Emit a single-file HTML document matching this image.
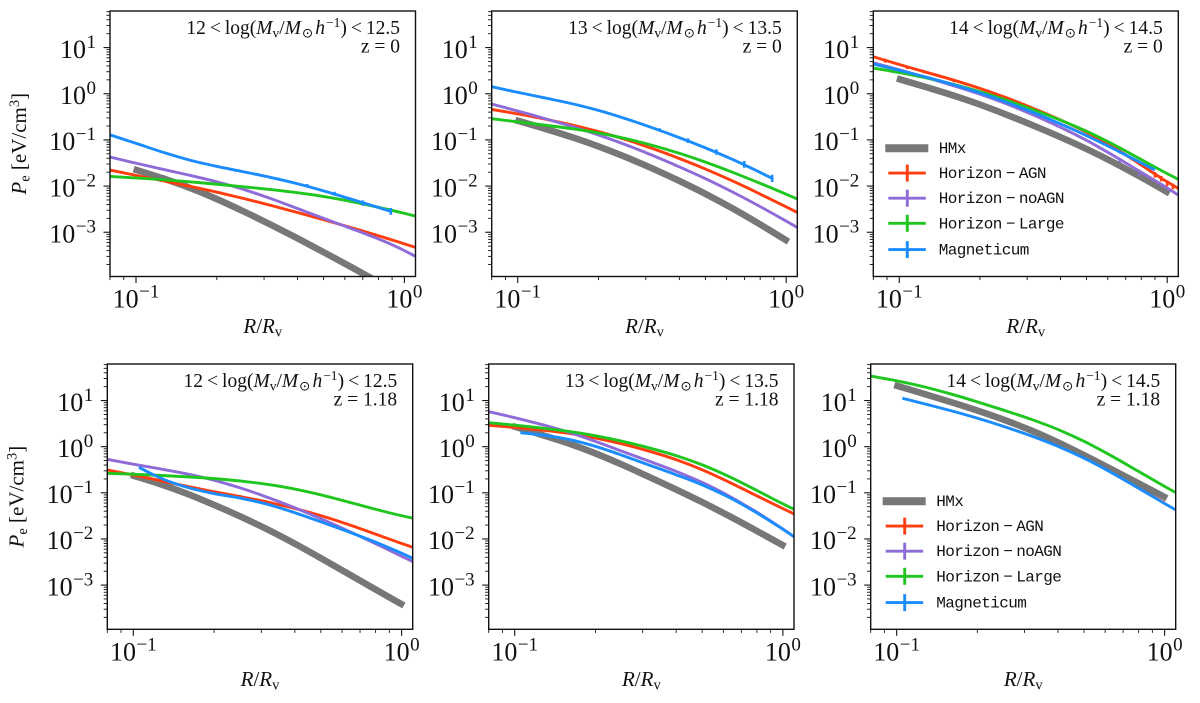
<!DOCTYPE html>
<html lang="en">
<head>
<meta charset="utf-8">
<title>Electron pressure profiles</title>
<style>
html,body{margin:0;padding:0;background:#fff;width:1200px;height:703px;overflow:hidden}
svg{display:block}
text{font-family:"Liberation Serif","DejaVu Serif",serif;fill:#111}
.mono{font-family:"Liberation Mono","DejaVu Sans Mono",monospace;letter-spacing:-0.6px}
</style>
</head>
<body>
<svg id="figure" xmlns="http://www.w3.org/2000/svg" width="1200" height="703" viewBox="0 0 1200 703"></svg>
<script>
// ---- data: radius R/Rv and electron pressure in eV/cm3 ----
const radius = [0.08,0.1,0.13,0.16,0.2,0.25,0.32,0.4,0.5,0.63,0.8,1.0,1.1];
const grayRadius = [0.098,0.13,0.16,0.2,0.25,0.32,0.4,0.5,0.63,0.8,1.02];
const xTickValues = [0.1,1];
const xTickExponents = ['−1','0'];
const yTickValues = [10,1,0.1,0.01,0.001];
const yTickExponents = ['1','0','−1','−2','−3'];
const legendLabels = ['Horizon−AGN','Horizon−noAGN','Horizon−Large','Magneticum'];

// panel 1: 12-12.5, z=0
const p1Gray = [0.0233,0.0144,0.00935,0.0054,0.00292,0.00145,0.00075,0.00037,0.00018,0.000086,0.000037];
const p1Red = [0.0222,0.017,0.0126,0.0098,0.00754,0.0055,0.00381,0.00269,0.00187,0.00129,0.00085,0.00056,0.00047];
const p1Purple = [0.0425,0.0315,0.0215,0.0173,0.0128,0.0089,0.0055,0.00323,0.00196,0.00123,0.00075,0.00043,0.0003];
const p1Green = [0.0162,0.0151,0.0137,0.0124,0.011,0.0097,0.0085,0.0073,0.0061,0.0048,0.0035,0.0026,0.00224];
const p1BlueR = [0.08,0.1,0.13,0.16,0.2,0.25,0.32,0.4,0.5,0.63,0.89];
const p1Blue = [0.129,0.088,0.0485,0.0336,0.0267,0.0208,0.0154,0.0116,0.00805,0.00523,0.00283];
const p1ErrR = [0.267,0.34,0.434,0.549,0.7,0.89];
const p1ErrP = [0.0195,0.0144,0.0102,0.00682,0.00428,0.00283];
const p1ErrF = [1.034,1.051,1.087,1.105,1.142,1.181];

// panel 2: 13-13.5, z=0
const p2Gray = [0.269,0.169,0.117,0.0736,0.0448,0.0242,0.0131,0.00695,0.00346,0.00151,0.000624];
const p2Red = [0.458,0.376,0.279,0.21,0.156,0.108,0.0656,0.0398,0.0242,0.0135,0.00671,0.00356,0.00269];
const p2Purple = [0.598,0.429,0.279,0.193,0.134,0.0813,0.0469,0.0262,0.0147,0.00793,0.00356,0.00178,0.00127];
const p2Green = [0.288,0.248,0.203,0.178,0.146,0.112,0.0774,0.0528,0.0337,0.0205,0.0115,0.00671,0.00524];
const p2BlueR = [0.08,0.1,0.13,0.16,0.2,0.25,0.32,0.4,0.5,0.63,0.8,0.886];
const p2Blue = [1.42,1.05,0.794,0.618,0.458,0.297,0.184,0.113,0.0689,0.0397,0.0198,0.0147];
const p2ErrR = [0.209,0.267,0.338,0.431,0.55,0.698,0.887];
const p2ErrP = [0.422,0.261,0.164,0.096,0.0546,0.0295,0.0147];
const p2ErrF = [1.034,1.051,1.087,1.124,1.142,1.181,1.2];

// panel 3: 14-14.5, z=0
const p3Gray = [2.15,1.31,0.938,0.598,0.363,0.2,0.117,0.0656,0.0337,0.016,0.00695];
const p3Red = [6.34,4.19,2.76,2.05,1.31,0.863,0.482,0.269,0.158,0.0773,0.0285,0.0114,0.0089];
const p3Purple = [4.7,3.37,2.15,1.47,1.02,0.64,0.346,0.186,0.108,0.0469,0.0188,0.00968,0.0064];
const p3Green = [3.6,2.9,2.22,1.62,1.14,0.755,0.444,0.269,0.165,0.0841,0.0366,0.0182,0.014];
const p3BlueR = [0.08,0.1,0.13,0.16,0.2,0.25,0.32,0.4,0.5,0.63,0.8,0.9];
const p3Blue = [4.4,3.26,2.22,1.6,1.05,0.695,0.387,0.22,0.132,0.0656,0.031,0.0223];
const p3RedErrR = [0.0887,0.107,0.124,0.141,0.16,0.9,0.95,1.0,1.05];
const p3RedErrP = [5.2,3.7,2.95,2.45,1.85,0.0175,0.0145,0.0114,0.0098];
const p3RedErrF = [1.1,1.08,1.06,1.05,1.04,1.15,1.15,1.15,1.15];
const p3PurpleErrR = [0.333,0.362,0.39,0.427,0.47,0.513,0.559,0.665,0.786];
const p3PurpleErrP = [0.305,0.24,0.195,0.152,0.118,0.0927,0.0665,0.0342,0.0176];
const p3PurpleErrF = [1.05,1.05,1.05,1.05,1.05,1.05,1.05,1.05,1.05];

// panel 4: 12-12.5, z=1.18
const p4Gray = [0.244,0.156,0.0975,0.0545,0.0315,0.0163,0.00807,0.00382,0.00181,0.000787,0.00036];
const p4Red = [0.313,0.244,0.181,0.136,0.101,0.0855,0.0644,0.0462,0.0332,0.0219,0.0122,0.00807,0.0066];
const p4Purple = [0.532,0.402,0.324,0.265,0.196,0.132,0.08,0.0486,0.0281,0.0152,0.00807,0.00415,0.00324];
const p4Green = [0.265,0.256,0.236,0.224,0.207,0.184,0.156,0.125,0.0929,0.0644,0.0426,0.0315,0.0282];
const p4BlueR = [0.105,0.119,0.13,0.16,0.2,0.25,0.32,0.4,0.5,0.63,0.8,1.0,1.1];
const p4Blue = [0.357,0.244,0.19,0.125,0.0929,0.08,0.0574,0.0372,0.0238,0.0144,0.00877,0.0049,0.00382];

// panel 5: 13-13.5, z=1.18
const p5Gray = [2.81,1.71,1.22,0.743,0.421,0.216,0.119,0.0644,0.0321,0.0149,0.00684];
const p5Red = [2.9,2.63,2.3,2.01,1.6,1.18,0.82,0.542,0.34,0.175,0.0826,0.0461,0.0349];
const p5Purple = [5.74,4.33,2.95,2.11,1.35,0.78,0.474,0.303,0.18,0.0897,0.0391,0.017,0.0112];
const p5Green = [3.32,2.95,2.5,2.19,1.79,1.35,0.953,0.661,0.436,0.235,0.115,0.0546,0.0439];
const p5BlueR = [0.105,0.13,0.16,0.2,0.25,0.32,0.4,0.5,0.63,0.8,1.0,1.1];
const p5Blue = [2.01,1.85,1.52,1.09,0.661,0.388,0.244,0.161,0.0869,0.0378,0.0165,0.0112];

// panel 6: 14-14.5, z=1.18
const p6Gray = [21.7,13.6,9.14,6.24,3.98,2.3,1.29,0.661,0.329,0.161,0.0762];
const p6RedR = [0.4,0.5,0.63,0.8,1.0];
const p6Red = [1.12,0.6,0.3,0.124,0.06];
const p6Green = [34,27.9,20,13.9,9.44,6.24,3.98,2.5,1.4,0.661,0.288,0.136,0.101];
const p6BlueR = [0.105,0.13,0.16,0.2,0.25,0.32,0.4,0.5,0.63,0.8,1.0,1.1];
const p6Blue = [11.2,8.28,6.03,4.26,2.81,1.73,1.07,0.589,0.297,0.121,0.0593,0.0426];

// ---- styling and layout ----
const COLORS = {gray:'#777777',red:'#ff3d0f',purple:'#8f6bd8',green:'#1fc61f',blue:'#1a8cff'};
const LEGEND_COLORS = [COLORS.red,COLORS.purple,COLORS.green,COLORS.blue];
const XMIN=0.08,XMAX=1.1,YMIN=1.1e-4,YMAX=62;
const svg=document.getElementById('figure');
const NS='http://www.w3.org/2000/svg';

function make(parent,tag,name,attrs){
  const el=document.createElementNS(NS,tag);
  for(const k in attrs){el.setAttribute(k,attrs[k]);}
  
  
  parent.appendChild(el);
  return el;
}
function xAxis(ax,v){return ax.left+(Math.log10(v)-Math.log10(XMIN))/(Math.log10(XMAX)-Math.log10(XMIN))*(ax.right-ax.left);}
function yAxis(ax,v){return ax.top+(Math.log10(YMAX)-Math.log10(v))/(Math.log10(YMAX)-Math.log10(YMIN))*(ax.bottom-ax.top);}

// Evens out hand-reading noise between neighbouring points; endpoints stay fixed.
function relax(pts,passes){
  let out=pts;
  for(let n=0;n<passes;n++){
    out=out.map(function(p,i){
      if(i===0||i===out.length-1)return p;
      return [(out[i-1][0]+2*p[0]+out[i+1][0])/4,(out[i-1][1]+2*p[1]+out[i+1][1])/4];
    });
  }
  return out;
}
function smoothPath(pts){
  let d='M'+pts[0][0].toFixed(2)+' '+pts[0][1].toFixed(2);
  for(let i=0;i<pts.length-1;i++){
    const p0=pts[Math.max(i-1,0)],p1=pts[i],p2=pts[i+1],p3=pts[Math.min(i+2,pts.length-1)];
    const c1x=p1[0]+(p2[0]-p0[0])/6,c1y=p1[1]+(p2[1]-p0[1])/6;
    const c2x=p2[0]-(p3[0]-p1[0])/6,c2y=p2[1]-(p3[1]-p1[1])/6;
    d+='C'+c1x.toFixed(2)+' '+c1y.toFixed(2)+' '+c2x.toFixed(2)+' '+c2y.toFixed(2)+' '+p2[0].toFixed(2)+' '+p2[1].toFixed(2);
  }
  return d;
}
function drawSeries(ax,g,name,rs,ps,color,width,passes){
  const pts=rs.map(function(r,i){return [xAxis(ax,r),yAxis(ax,ps[i])];});
  make(g,'path',name,{d:smoothPath(relax(pts,passes)),fill:'none',stroke:color,'stroke-width':width,'stroke-linejoin':'round'});
}
function drawErrors(ax,g,name,rs,ps,fs,color){
  rs.forEach(function(r,i){
    const x=xAxis(ax,r);
    make(g,'line',name,{x1:x,x2:x,y1:yAxis(ax,ps[i]*fs[i]),y2:yAxis(ax,ps[i]/fs[i]),stroke:color,'stroke-width':2.6});
  });
}
function powerLabel(parent,name,x,y,anchor,exponent){
  const t=make(parent,'text',name,{x:x,y:y,'text-anchor':anchor,'font-size':26});
  t.innerHTML='10<tspan dy="-10" dx="0.5" font-size="19">'+exponent+'</tspan>';
  return t;
}
function massLabel(parent,ax,low,high,z){
  const rx=ax.right-15.5;
  const t=make(parent,'text','mass-range-label',{x:rx,y:ax.top+23,'text-anchor':'end','font-size':19.5});
  t.innerHTML=low+'<tspan dx="4">&lt;</tspan><tspan dx="4">log(</tspan><tspan font-style="italic">M</tspan><tspan dy="3.5" font-size="13.5">v</tspan><tspan dy="-3.5">/</tspan><tspan font-style="italic">M</tspan><tspan dy="3.5" dx="1" font-size="13.5" style="font-family:\'DejaVu Sans\',sans-serif">⊙</tspan><tspan dy="-3.5" dx="2" font-style="italic">h</tspan><tspan dy="-7" dx="1" font-size="13.5">−1</tspan><tspan dy="7">)</tspan><tspan dx="4">&lt;</tspan><tspan dx="4">'+high+'</tspan>';
  const t2=make(parent,'text','redshift-label',{x:rx,y:ax.top+41.3,'text-anchor':'end','font-size':19.5});
  t2.textContent='z = '+z;
}
function drawAxes(ax,g){
  const minors=[0.08,0.09,0.2,0.3,0.4,0.5,0.6,0.7,0.8,0.9];
  minors.forEach(function(v){
    const x=xAxis(ax,v);
    make(g,'line','x-minor-tick',{x1:x,x2:x,y1:ax.bottom,y2:ax.bottom+3.6,stroke:'#111','stroke-width':0.9});
  });
  xTickValues.forEach(function(v,i){
    const x=xAxis(ax,v);
    make(g,'line','x-major-tick',{x1:x,x2:x,y1:ax.bottom,y2:ax.bottom+6.5,stroke:'#111','stroke-width':1.1});
    powerLabel(g,'x-tick-label',x,ax.bottom+31,'middle',xTickExponents[i]);
  });
  for(let d=-4;d<=1;d++){
    for(let m=2;m<=9;m++){
      const v=m*Math.pow(10,d);
      if(v<YMIN||v>YMAX)continue;
      const y=yAxis(ax,v);
      make(g,'line','y-minor-tick',{x1:ax.left-3.6,x2:ax.left,y1:y,y2:y,stroke:'#111','stroke-width':0.9});
    }
  }
  yTickValues.forEach(function(v,i){
    const y=yAxis(ax,v);
    make(g,'line','y-major-tick',{x1:ax.left-6.5,x2:ax.left,y1:y,y2:y,stroke:'#111','stroke-width':1.1});
    powerLabel(g,'y-tick-label',ax.left-14,y+10.3,'end',yTickExponents[i]);
  });
  make(g,'rect','axes-frame',{x:ax.left,y:ax.top,width:ax.right-ax.left,height:ax.bottom-ax.top,fill:'none',stroke:'#111','stroke-width':1.4});
  const xl=make(g,'text','x-axis-title',{x:(ax.left+ax.right)/2,y:ax.bottom+56.5,'text-anchor':'middle','font-size':21});
  xl.innerHTML='<tspan font-style="italic">R</tspan>/<tspan font-style="italic">R</tspan><tspan dy="3.5" font-size="14.5">v</tspan>';
}
function drawYTitle(ax,g){
  const cx=ax.left-84,cy=(ax.top+ax.bottom)/2;
  const yl=make(g,'text','y-axis-title',{x:cx,y:cy,'text-anchor':'middle','font-size':21,transform:'rotate(-90 '+cx+' '+cy+')'});
  yl.innerHTML='<tspan font-style="italic">P</tspan><tspan dy="3.5" font-size="14.5">e</tspan><tspan dy="-3.5"> [eV/cm</tspan><tspan dy="-7" font-size="14.5">3</tspan><tspan dy="7">]</tspan>';
}
function drawLegend(ax,g){
  const legend=make(g,'g','legend',{});
  const grayY=ax.top+137.2;
  make(legend,'line','legend-swatch-hmx',{x1:ax.left+12,x2:ax.left+55,y1:grayY,y2:grayY,stroke:COLORS.gray,'stroke-width':8});
  const hmx=make(legend,'text','legend-label-hmx',{x:ax.left+65.5,y:grayY+5,'font-size':16,class:'mono'});
  hmx.textContent='HMx';
  const rows=[162.1,187.2,212.3,238.6];
  legendLabels.forEach(function(label,i){
    const y=ax.top+rows[i],c=LEGEND_COLORS[i];
    make(legend,'line','legend-swatch-line',{x1:ax.left+15,x2:ax.left+52.5,y1:y,y2:y,stroke:c,'stroke-width':2.9});
    make(legend,'line','legend-swatch-errorbar',{x1:ax.left+34,x2:ax.left+34,y1:y-8.5,y2:y+8.5,stroke:c,'stroke-width':2.9});
    const t=make(legend,'text','legend-label',{x:ax.left+65.5,y:y+5,'font-size':16,class:'mono'});
    const parts=label.split('−');
    if(parts.length===2){
      t.innerHTML=parts[0]+'<tspan dx="4">−</tspan><tspan dx="4">'+parts[1]+'</tspan>';
    }else{
      t.textContent=label;
    }
  });
}

const panels=[
 {ax:{left:110,right:415.5,top:11,bottom:276.5},low:12,high:12.5,z:'0',ytitle:true,legend:false,
  series:[['gray',grayRadius,p1Gray,2],['red',radius,p1Red,2],['purple',radius,p1Purple,2],['green',radius,p1Green,2],['blue',p1BlueR,p1Blue,2]],
  errors:[['blue',p1ErrR,p1ErrP,p1ErrF]]},
 {ax:{left:491.7,right:797.3,top:11,bottom:276.5},low:13,high:13.5,z:'0',ytitle:false,legend:false,
  series:[['gray',grayRadius,p2Gray,2],['red',radius,p2Red,2],['purple',radius,p2Purple,2],['green',radius,p2Green,2],['blue',p2BlueR,p2Blue,2]],
  errors:[['blue',p2ErrR,p2ErrP,p2ErrF]]},
 {ax:{left:873.3,right:1178.3,top:11,bottom:276.5},low:14,high:14.5,z:'0',ytitle:false,legend:true,
  series:[['gray',grayRadius,p3Gray,2],['red',radius,p3Red,2],['purple',radius,p3Purple,2],['green',radius,p3Green,2],['blue',p3BlueR,p3Blue,2]],
  errors:[['red',p3RedErrR,p3RedErrP,p3RedErrF],['purple',p3PurpleErrR,p3PurpleErrP,p3PurpleErrF]]},
 {ax:{left:107.3,right:412.7,top:364,bottom:629.3},low:12,high:12.5,z:'1.18',ytitle:true,legend:false,
  series:[['gray',grayRadius,p4Gray,2],['red',radius,p4Red,2],['purple',radius,p4Purple,2],['green',radius,p4Green,2],['blue',p4BlueR,p4Blue,1]],
  errors:[]},
 {ax:{left:488.7,right:794,top:364,bottom:629.3},low:13,high:13.5,z:'1.18',ytitle:false,legend:false,
  series:[['gray',grayRadius,p5Gray,2],['red',radius,p5Red,2],['purple',radius,p5Purple,2],['green',radius,p5Green,2],['blue',p5BlueR,p5Blue,2]],
  errors:[]},
 {ax:{left:870.7,right:1175.7,top:364,bottom:629.3},low:14,high:14.5,z:'1.18',ytitle:false,legend:true,
  series:[['red',p6RedR,p6Red,1],['gray',grayRadius,p6Gray,2],['green',radius,p6Green,2],['blue',p6BlueR,p6Blue,2]],
  errors:[]}
];

panels.forEach(function(p,idx){
  const ax=p.ax;
  const g=make(svg,'g','panel-'+(idx+1),{});
  const clipId='clip-'+idx;
  const defs=make(g,'defs','panel-clip-defs',{});
  const clip=make(defs,'clipPath','panel-clip',{id:clipId});
  make(clip,'rect','panel-clip-rect',{x:ax.left,y:ax.top,width:ax.right-ax.left,height:ax.bottom-ax.top});
  const marks=make(g,'g','series-group',{'clip-path':'url(#'+clipId+')'});
  p.series.forEach(function(s){
    drawSeries(ax,marks,'series-'+s[0],s[1],s[2],COLORS[s[0]],s[0]==='gray'?6.6:2.9,s[3]);
  });
  p.errors.forEach(function(e){
    drawErrors(ax,marks,'errorbar-'+e[0],e[1],e[2],e[3],COLORS[e[0]]);
  });
  drawAxes(ax,g);
  if(p.ytitle){drawYTitle(ax,g);}
  massLabel(g,ax,p.low,p.high,p.z);
  if(p.legend){drawLegend(ax,g);}
});
</script>
</body>
</html>
